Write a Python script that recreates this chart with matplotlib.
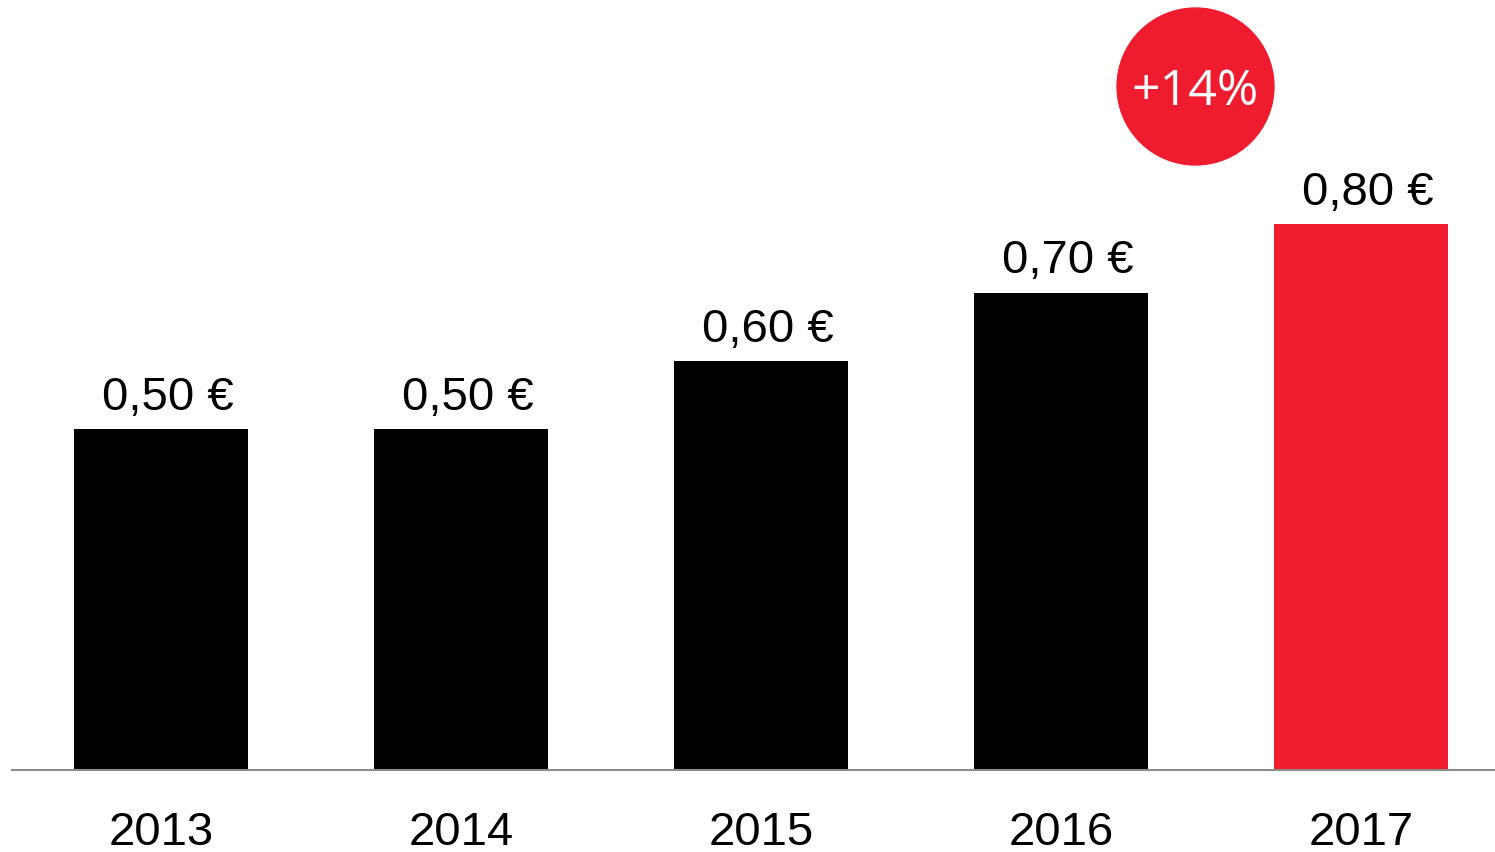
import matplotlib.pyplot as plt

years = ["2013", "2014", "2015", "2016", "2017"]
dividends = [0.50, 0.50, 0.60, 0.70, 0.80]
labels = ["0,50 €", "0,50 €", "0,60 €", "0,70 €", "0,80 €"]
colors = ["#000000", "#000000", "#000000", "#000000", "#EE1C2E"]
growth_label = "+14%"

plt.rcParams["font.family"] = ["Liberation Sans", "DejaVu Sans"]

fig = plt.figure(figsize=(14.95, 8.53), dpi=100)
ax = fig.add_axes([12 / 1495, 82 / 853, 1483 / 1495, 771 / 853])

x = range(len(years))
ax.bar(x, dividends, width=0.58, color=colors)

for xi, v, lab in zip(x, dividends, labels):
    ax.annotate(lab, (xi, v), xytext=(4.5, 14.5), textcoords="offset points",
                ha="center", va="baseline", fontsize=34)

ax.set_xlim(-0.498, 4.445)
ax.set_ylim(0, 1.1305)
ax.set_xticks(list(x), years, fontsize=34)
ax.tick_params(axis="x", length=0, pad=29)
ax.set_yticks([])
for s in ["top", "left", "right"]:
    ax.spines[s].set_visible(False)
ax.spines["bottom"].set_color("#8c8c8c")
ax.spines["bottom"].set_linewidth(1.5)

# growth badge
ax.scatter([3.445], [1.003], s=113 ** 2, color="#EE1C2E", clip_on=False, zorder=3)
ax.annotate(growth_label, (3.445, 1.003), xytext=(0, -4), textcoords="offset points",
            color="white", fontsize=36, ha="center", va="center", zorder=4,
            family=["Open Sans", "DejaVu Sans"])

fig.savefig("out.png", dpi=100)
